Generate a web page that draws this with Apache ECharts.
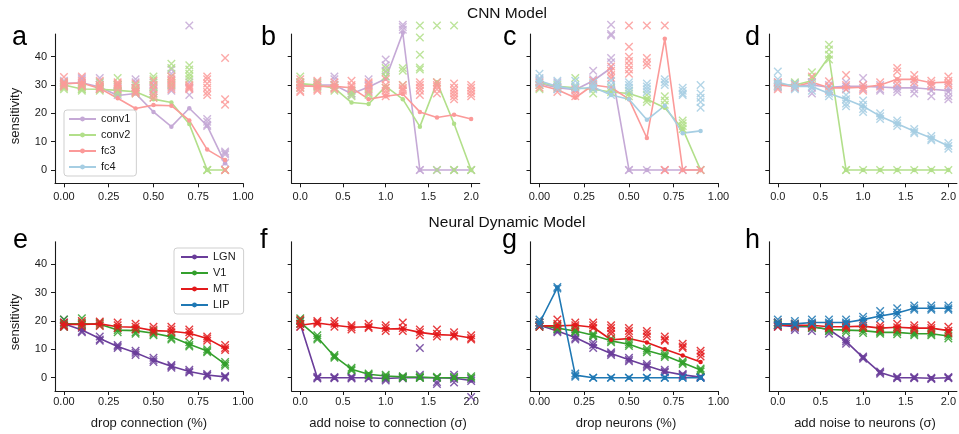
<!DOCTYPE html>
<html>
<head>
<meta charset="utf-8">
<title>Sensitivity under perturbation</title>
<script src="https://cdn.jsdelivr.net/npm/echarts@6/dist/echarts.min.js"></script>
<style>
  html, body { margin: 0; padding: 0; background: #fff; }
  #chart { width: 959px; height: 434px; }
</style>
</head>
<body>
<div id="chart"></div>
<script>
// ---------- perturbation levels ----------
const dropLevels = [0, 0.1, 0.2, 0.3, 0.4, 0.5, 0.6, 0.7, 0.8, 0.9];
const noiseLevels = [0, 0.2, 0.4, 0.6, 0.8, 1.0, 1.2, 1.4, 1.6, 1.8, 2.0];
const dropTicks = [0, 0.25, 0.5, 0.75, 1.0];
const noiseTicks = [0, 0.5, 1.0, 1.5, 2.0];
const sensTicks = [0, 10, 20, 30, 40];

const cnnLayers = ['conv1', 'conv2', 'fc3', 'fc4'];
const brainAreas = ['LGN', 'V1', 'MT', 'LIP'];

// ---------- a: CNN, drop connection ----------
const aConv1 = [30.5, 30.8, 29.3, 26.3, 27, 20.5, 15.3, 21.8, 15.6, 2.4];
const aConv2 = [30, 28.6, 28.5, 28.1, 27.6, 25, 23.8, 16.2, 0, 0];
const aFc3 = [30.5, 30.7, 28.8, 25.3, 21.7, 22.9, 22.7, 17.5, 7.2, 3.5];
const aConv1Trials = [[30, 31, 30.5, 29.5, 31.5], [31, 32, 30, 32.5, 29.5], [32.5, 30, 31, 29, 28.5], [27.5, 29, 26.5, 30, 28], [32, 31, 29, 27.5, 28], [30, 28, 29, 27, 31], [35.5, 34, 29, 28, 30], [51, 31, 26.5, 29], [18, 17, 16, 15.5], [6.5, 6, 5.5, 2.5]];
const aConv2Trials = [[29, 30, 31, 29.5, 28.5], [28.5, 29, 28, 29.5, 28.5], [28.5, 29.5, 28, 30, 31], [32.5, 29.5, 28, 30, 27], [30, 27.5, 29, 28.5, 27], [33, 32, 29.5, 27, 25.5], [37.5, 36, 33, 31, 30], [37, 35.5, 34, 33, 32], [0, 0, 0], [0, 0]];
const aFc3Trials = [[32.8, 30, 31, 29.5, 30.5], [33, 30.5, 31.5, 29.5, 30], [31.5, 30, 29, 28.5, 29.5], [31, 30, 28.5, 29.5, 30.5], [30.5, 29, 27, 28, 27.5], [31.5, 30, 28.5, 26.5, 25.5], [33, 32, 31.5, 30.5, 29.5, 28.5], [30, 29, 28.5, 29.5], [33, 32, 30.5, 29, 27.5, 26.5], [39.5, 25, 23, 0, 0]];

// ---------- b: CNN, noise on connections ----------
const bConv1 = [30, 30, 30, 26.9, 29.3, 32.2, 48.4, 0, 0, 0, 0];
const bConv2 = [30.5, 30, 28.9, 23.8, 23.3, 29.5, 25, 15.3, 31, 16.3, 0];
const bFc3 = [29.7, 29.5, 29.5, 29, 25, 26, 26.8, 20.5, 18.5, 19.5, 18];
const bConv1Trials = [[30, 31, 29, 30.5], [30, 31, 29.5], [33, 32, 30, 29], [28, 27, 26.5], [32, 30, 28], [39, 37, 35, 33], [51.3, 50.5, 49.5], [0, 0], [0], [0], [0]];
const bConv2Trials = [[33, 31, 30, 29], [31, 30, 29], [30, 29, 28], [28, 27, 26], [27, 26.5], [36, 34.5, 33, 29], [36, 35, 30], [51, 46.8, 40.7, 36.2, 35.5], [51, 31, 0], [51, 0, 0], [0, 0]];
const bFc3Trials = [[32, 31, 30, 29, 28, 27.5], [31.5, 30.5, 29.5, 28.5, 28], [31, 30, 29, 28.5], [31.5, 30, 29.5, 28.5], [31, 30.5, 29.5, 28.5, 27.5], [32, 30, 29, 28, 27, 26], [30, 29, 28.5, 28], [31, 30, 29, 28, 26.5], [31, 30, 29.5, 28.5, 27], [30.5, 29, 28, 27, 26, 25], [30, 29, 28, 27, 26]];

// ---------- c: CNN, drop neurons ----------
const cConv1 = [30.5, 29, 28.3, 31.5, 36, 0, 0, 0, 0, 0];
const cConv2 = [31, 29.5, 29, 28.5, 27.5, 27, 25, 22, 14.5, 0];
const cFc3 = [30, 28.3, 25.5, 30, 29.1, 25, 11.3, 46.3, 0, 0];
const cFc4 = [31.5, 29.5, 28.5, 29.3, 26.5, 25, 17.7, 22.7, 13, 13.8];
const cConv1Trials = [[32, 31, 30], [31, 29.5, 28.5], [29, 28], [35, 32, 30], [51.3, 48, 47.5, 39.5, 38], [0, 0], [0], [0], [0], [0]];
const cConv2Trials = [[30, 29, 28.5], [30, 29], [32.5, 29.5], [29, 27], [29, 27.5], [28, 27, 26], [26.5, 25, 24], [26, 24.5, 23], [17.5, 16.5, 15.5, 14.5], [0]];
const cFc3Trials = [[31, 30, 29], [29, 27.5], [28.5, 27, 26], [31.5, 30.5, 29.5], [36.5, 35, 33.5, 32.5], [51, 43.5, 40, 38.5, 37, 35.5, 34], [51, 39.5, 38, 37], [51, 0, 0], [0], [0]];
const cFc4Trials = [[34, 32.5, 31.5, 30.5], [31.5, 30.5, 29.5, 28.5], [31.5, 30, 29], [31, 30, 29, 28.5], [31.5, 30, 28.5, 26.5], [31, 30, 29, 28], [30.5, 29.5, 28.5, 27.5], [32, 31, 30], [29, 28, 27, 26.5], [30, 27, 25.5, 24, 22]];

// ---------- d: CNN, noise on neurons ----------
const dConv1 = [30.5, 29.5, 30, 29.2, 29.5, 29.5, 29.3, 29, 29, 28.5, 28];
const dConv2 = [30, 30, 31.5, 40, 0, 0, 0, 0, 0, 0, 0];
const dFc3 = [30, 29.5, 31, 29, 29, 29.2, 30, 32, 32, 30.8, 31];
const dFc4 = [31, 29.5, 29.5, 27, 25, 22.5, 19, 16.3, 13.7, 11.3, 8.5];
const dConv1Trials = [[31, 30, 29], [30.5, 29], [31, 29, 27], [30, 28.5], [31, 29.5, 28.5], [32.5, 30, 28.5], [30, 28.5, 28], [29.5, 28.5, 27.5], [30, 28.5, 27], [29.5, 28, 26], [29, 27.5, 26, 25]];
const dConv2Trials = [[30.5, 29.5], [31, 30.5], [34.5, 32.5], [44.2, 42.5, 40.7, 39], [0, 0], [0], [0], [0], [0], [0], [0]];
const dFc3Trials = [[31, 29.5, 28.5], [30, 29], [33, 31], [31.3, 29.5, 28], [33.5, 30, 28.5], [30, 29, 28], [31, 29.5], [36, 34.8, 32, 30.5], [33.5, 32, 31], [31.5, 30.5, 29.5], [33, 31.5, 30.5, 30]];
const dFc4Trials = [[34.8, 32, 30.5, 29.5], [30.5, 29.5, 28.5], [31, 29.5, 28], [28.5, 27, 26], [26.5, 25, 23.5, 22.5], [24.5, 23, 21.5, 20.5], [20, 19, 18], [17.5, 16.5, 15.5], [14.5, 13.5, 13], [12, 11, 10.5], [9.5, 8.5, 7.5]];

// ---------- e: network model, drop connection ----------
const eLGN = [19, 16.8, 13.8, 11, 8.8, 6.2, 4, 2.2, 0.95, 0.3];
const eV1 = [19, 19, 18.9, 16.8, 16.6, 15.7, 14.4, 11.8, 9.4, 4.8];
const eMT = [18.8, 18.8, 19, 18, 17.8, 16.6, 16.4, 15.7, 13.8, 10.4];
const eLGNTrials = [[20.5, 19.5, 18.5, 18], [17.5, 16.5, 16], [14.5, 13.5, 13], [11.5, 11, 10.5], [9.5, 8.8, 8], [7, 6.2, 5.5], [4.5, 4, 3.5], [2.8, 2.2, 1.8], [1.3, 0.9, 0.6], [0.6, 0.3, 0]];
const eV1Trials = [[20.5, 19, 18], [21, 19.5, 18.5], [19.5, 18.5], [17.5, 16.8, 16], [17, 16, 15.5], [16.5, 15.5, 15], [15, 14, 13.5], [12.5, 11.5, 11], [10, 9.4, 9], [5.5, 4.8, 4.2]];
const eMTTrials = [[19.5, 18.5, 18], [20, 19, 18], [19.8, 19, 18.2], [19.5, 18.5, 17.5], [19, 18, 17], [18, 17, 16], [18, 17, 16], [17, 16, 15], [14.5, 13.8, 13], [11.5, 10.5, 9.8]];

// ---------- f: network model, noise on connections ----------
const fLGN = [19, 0, 0, 0, 0, -0.3, 0, 0, 0, -0.2, -1];
const fV1 = [19.5, 14.3, 7.5, 3, 1.2, 0.6, 0.3, 0.2, 0, 0, 0];
const fMT = [18.5, 19.3, 18.5, 17.8, 18, 17.2, 17.3, 16, 15.2, 15, 14];
const fLGNTrials = [[20, 19, 18], [0.3, 0, -0.3], [0.2, 0, -0.2], [0.3, 0, -0.3], [0, -0.3], [0, -0.5, -1], [0.3, -0.3], [10.5, 1, 0], [0, -1.5, -2.2], [1, -0.5, -1.7], [-0.5, -1.2, -6.8]];
const fV1Trials = [[21, 20, 19], [15, 14, 13.5], [8, 7.5, 7], [3.5, 3, 2.5], [1.5, 1, 0.8], [1, 0.5, 0], [0.5, 0, 0], [0.5, 0, 0], [0.3, 0], [0.3, 0], [0.5, 0]];
const fMTTrials = [[20.5, 19, 18], [20, 19.5, 19], [20, 19, 18], [18.5, 17.8, 17], [19, 18, 17.5], [18.5, 17.5, 16.5], [19.5, 17.5, 16.5], [17, 16, 15], [17, 15.5, 14.5], [16, 15, 14.5], [15, 14, 13.5]];

// ---------- g: network model, drop neurons ----------
const gLGN = [18.5, 16.5, 14.2, 11.2, 8.5, 6.3, 4.2, 2.2, 1, 0.2];
const gV1 = [18.5, 17.5, 16.5, 15, 13, 11.8, 9.6, 7.8, 5.3, 2.7];
const gMT = [18.3, 18.3, 18.5, 17.8, 13.4, 13.8, 12.4, 10, 7.8, 5.5];
const gLIP = [19.3, 31.8, 0.9, 0, 0, 0, 0, 0, 0, 0];
const gLGNTrials = [[19.5, 18.5, 18], [17, 16.5, 16], [15, 14, 13.5], [12.5, 11.5, 10.5], [9, 8.5, 8], [7, 6.3, 5.8], [4.8, 4.2, 3.7], [2.8, 2.2, 1.8], [1.3, 1, 0.6], [0.4, 0.2, 0]];
const gV1Trials = [[19.5, 18.5, 18], [18.5, 17.5, 17], [17, 16.5, 16], [15.5, 15, 14.5], [13.8, 13, 12.5], [12.5, 11.8, 11.2], [10.3, 9.6, 9], [8.5, 7.8, 7.3], [5.8, 5.3, 4.8], [3.2, 2.7, 2.2]];
const gMTTrials = [[19.5, 18.5, 18], [20.5, 19, 18], [19.5, 18.5, 17.8], [19.5, 18.5, 17.5], [18.5, 17.5, 16.5, 15.5], [17.5, 16.5, 15.5], [16.5, 15.5, 14.5], [14.5, 13.5, 13], [12, 11, 10.5], [9.5, 8.5, 7.5]];
const gLIPTrials = [[20.5, 19.5, 18.5], [32, 31.5], [1.5, 0.8, 0.3], [0, 0], [0, 0], [0, 0], [0, 0], [0, 0], [0, 0], [0, 0]];

// ---------- h: network model, noise on neurons ----------
const hLGN = [18.5, 18, 18, 17, 12.8, 7.1, 1.8, 0, 0, -0.2, 0];
const hV1 = [19, 18.5, 18, 17, 16.8, 16.6, 16, 16, 15.5, 15.5, 14.7];
const hMT = [18.5, 18.5, 18.5, 18, 18, 18.2, 17.5, 17.8, 17.5, 17.5, 16.6];
const hLIP = [19, 19, 19.5, 19.5, 19.5, 20.5, 21.8, 22.8, 24.5, 24.5, 24.5];
const hLGNTrials = [[19.5, 18.5, 18], [18.5, 17.5, 16.8], [18.5, 17.5, 16.5], [17.5, 16.5, 15.5], [13.5, 12.8, 12], [7.5, 7.1, 6.7], [2.2, 1.8, 1.4], [0.3, 0, -0.2], [0.2, 0, -0.2], [0, -0.3, -0.5], [0.2, 0, -0.2]];
const hV1Trials = [[19.5, 19, 18.5], [19, 18.5, 18], [18.5, 18, 17.5], [17.5, 17, 16.5], [17.5, 16.8, 16], [17.5, 16.6, 15.8], [16.5, 16, 15.5], [16.5, 16, 15.3], [16, 15.5, 15], [16, 15.5, 15], [15.5, 14.7, 13.8]];
const hMTTrials = [[19.5, 18.5, 18], [19, 18.5, 18], [19, 18.5, 18], [18.5, 18, 17.5], [18.5, 18, 17.5], [19, 18.2, 17.5], [18.5, 17.5, 17], [19, 17.8, 17], [18.5, 17.5, 16.8], [18.5, 17.5, 16.8], [18, 16.6, 15.8]];
const hLIPTrials = [[20.5, 19.5, 18.5], [20, 19, 18.5], [20.5, 19.5, 19], [20.5, 19.5, 19], [20.5, 19.5, 19], [21.5, 20.5, 19.5], [23.5, 22, 21], [24.5, 23, 22], [25.5, 24.5, 24], [25.5, 24.5, 24], [25.5, 24.5, 24]];

// ---------- styling ----------
const FONT = '"Liberation Sans", Arial, Helvetica, sans-serif';
const INK = '#1a1a1a';
const cnnColors = ['#c5a9d6', '#b2df8a', '#fb9a99', '#a6cee3'];
const brainColors = ['#6a3d9a', '#33a02c', '#e31a1c', '#1f78b4'];

const colLeft = [55, 291.7, 530.5, 769.3];
const panelWidth = 188;
const rowTop = [34, 241.7];
const panelHeight = 149.3;

const panels = [
  { letter: 'a', row: 0, col: 0, kind: 'drop', names: cnnLayers, colors: cnnColors,
    means: [aConv1, aConv2, aFc3, null], trials: [aConv1Trials, aConv2Trials, aFc3Trials, null] },
  { letter: 'b', row: 0, col: 1, kind: 'noise', names: cnnLayers, colors: cnnColors,
    means: [bConv1, bConv2, bFc3, null], trials: [bConv1Trials, bConv2Trials, bFc3Trials, null] },
  { letter: 'c', row: 0, col: 2, kind: 'drop', names: cnnLayers, colors: cnnColors,
    means: [cConv1, cConv2, cFc3, cFc4], trials: [cConv1Trials, cConv2Trials, cFc3Trials, cFc4Trials] },
  { letter: 'd', row: 0, col: 3, kind: 'noise', names: cnnLayers, colors: cnnColors,
    means: [dConv1, dConv2, dFc3, dFc4], trials: [dConv1Trials, dConv2Trials, dFc3Trials, dFc4Trials] },
  { letter: 'e', row: 1, col: 0, kind: 'drop', names: brainAreas, colors: brainColors,
    means: [eLGN, eV1, eMT, null], trials: [eLGNTrials, eV1Trials, eMTTrials, null],
    xTitle: 'drop connection (%)', xTitleX: 149 },
  { letter: 'f', row: 1, col: 1, kind: 'noise', names: brainAreas, colors: brainColors,
    means: [fLGN, fV1, fMT, null], trials: [fLGNTrials, fV1Trials, fMTTrials, null],
    xTitle: 'add noise to connection (σ)', xTitleX: 388 },
  { letter: 'g', row: 1, col: 2, kind: 'drop', names: brainAreas, colors: brainColors,
    means: [gLGN, gV1, gMT, gLIP], trials: [gLGNTrials, gV1Trials, gMTTrials, gLIPTrials],
    xTitle: 'drop neurons (%)', xTitleX: 626 },
  { letter: 'h', row: 1, col: 3, kind: 'noise', names: brainAreas, colors: brainColors,
    means: [hLGN, hV1, hMT, hLIP], trials: [hLGNTrials, hV1Trials, hMTTrials, hLIPTrials],
    xTitle: 'add noise to neurons (σ)', xTitleX: 865 }
];

const letterPos = {
  a: [12, 37.5], b: [261, 37.5], c: [503, 37.5], d: [745, 37.5],
  e: [13, 240.5], f: [260, 240.5], g: [502, 240.5], h: [745, 240.5]
};

const crossSymbol = 'path://M0,0L10,10M10,0L0,10';

const grids = [], xAxes = [], yAxes = [], series = [], graphics = [];

function trialPoints(xs, trials) {
  const pts = [];
  trials.forEach((vals, i) => vals.forEach(v => pts.push([xs[i], v])));
  return pts;
}

panels.forEach((p, idx) => {
  const isDrop = p.kind === 'drop';
  const xs = isDrop ? dropLevels : noiseLevels;
  grids.push({ left: colLeft[p.col], top: rowTop[p.row], width: panelWidth, height: panelHeight, containLabel: false });

  const axisLine = { show: true, onZero: false, lineStyle: { color: INK, width: 1.1 } };
  const axisTick = { show: true, length: 4, lineStyle: { color: INK, width: 1 } };

  xAxes.push({
    type: 'value', gridIndex: idx,
    min: isDrop ? -0.05 : -0.1, max: isDrop ? 1.0 : 2.1,
    axisLine,
    axisTick: Object.assign({}, axisTick, { customValues: isDrop ? dropTicks : noiseTicks }),
    axisLabel: {
      customValues: isDrop ? dropTicks : noiseTicks,
      formatter: v => isDrop ? Number(v).toFixed(2) : Number(v).toFixed(1),
      fontFamily: FONT, fontSize: 11, color: INK,
      margin: p.row === 0 ? 8 : 5.5
    },
    splitLine: { show: false }
  });

  yAxes.push({
    type: 'value', gridIndex: idx, min: -4.7, max: 48,
    axisLine,
    axisTick: Object.assign({}, axisTick, { customValues: sensTicks }),
    axisLabel: {
      show: p.col === 0, customValues: sensTicks,
      fontFamily: FONT, fontSize: 11, color: INK, margin: 8
    },
    splitLine: { show: false }
  });

  p.names.forEach((name, k) => {
    if (!p.means[k]) return;
    const color = p.colors[k];
    series.push({
      type: 'scatter', name: name + ' trials', xAxisIndex: idx, yAxisIndex: idx,
      data: trialPoints(xs, p.trials[k]),
      symbol: crossSymbol, symbolSize: 7.5, clip: false, silent: true, z: 2,
      itemStyle: { color: 'none', borderColor: color, borderWidth: 1.4, opacity: 0.85 }
    });
    series.push({
      type: 'line', name, xAxisIndex: idx, yAxisIndex: idx,
      data: xs.map((x, i) => [x, p.means[k][i]]),
      symbol: 'circle', symbolSize: 4.5, showSymbol: true, clip: false, silent: true, z: 2,
      lineStyle: { color, width: 1.6 },
      itemStyle: { color }
    });
  });

  const lp = letterPos[p.letter];
  graphics.push({
    type: 'text', x: lp[0], y: lp[1], z: 10,
    style: { text: p.letter, font: '27px ' + FONT, fill: '#000',
             textAlign: 'left', align: 'left', textVerticalAlign: 'middle', verticalAlign: 'middle' }
  });
  if (p.xTitle) {
    graphics.push({
      type: 'text', x: p.xTitleX, y: 423, z: 10,
      style: { text: p.xTitle, font: '13px ' + FONT, fill: INK,
               textAlign: 'center', align: 'center', textVerticalAlign: 'middle', verticalAlign: 'middle' }
    });
  }
});

// row titles and shared y-axis titles
[['CNN Model', 14], ['Neural Dynamic Model', 222.5]].forEach(([t, y]) => {
  graphics.push({
    type: 'text', x: 507, y, z: 10,
    style: { text: t, font: '15.5px ' + FONT, fill: '#111',
             textAlign: 'center', align: 'center', textVerticalAlign: 'middle', verticalAlign: 'middle' }
  });
});
[116, 322].forEach(y => {
  graphics.push({
    type: 'text', x: 15, y, rotation: Math.PI / 2, z: 10,
    style: { text: 'sensitivity', font: '13px ' + FONT, fill: INK,
             textAlign: 'center', align: 'center', textVerticalAlign: 'middle', verticalAlign: 'middle' }
  });
});

const legendBase = {
  orient: 'vertical', itemWidth: 27, itemHeight: 6, itemGap: 5,
  padding: [3.5, 6, 3.5, 4],
  backgroundColor: 'rgba(255,255,255,0.85)', borderColor: '#cfcfcf', borderWidth: 1, borderRadius: 3,
  textStyle: { fontFamily: FONT, fontSize: 11, color: INK },
  selectedMode: false
};

const chart = echarts.init(document.getElementById('chart'), null, { renderer: 'canvas' });
chart.setOption({
  animation: false,
  backgroundColor: '#fff',
  grid: grids,
  xAxis: xAxes,
  yAxis: yAxes,
  legend: [
    Object.assign({}, legendBase, { data: cnnLayers, left: 64, top: 110 }),
    Object.assign({}, legendBase, { data: brainAreas, left: 174, top: 248, padding: [3.5, 8, 3.5, 6] })
  ],
  series,
  graphic: graphics
});
</script>
</body>
</html>
